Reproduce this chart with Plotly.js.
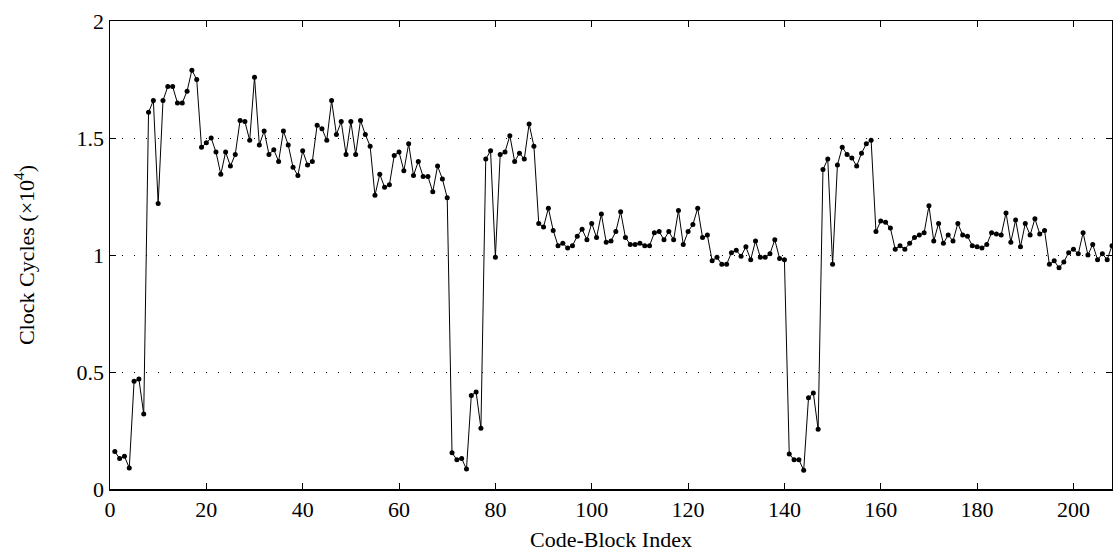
<!DOCTYPE html>
<html><head><meta charset="utf-8">
<script src="https://cdn.plot.ly/plotly-3.0.1.min.js"></script>
<style>html,body{margin:0;padding:0;background:#fff}#chart{width:1113px;height:556px}</style>
</head><body><div id="chart"></div>
<script>
const blockIndex = Array.from({length: 208}, (_, i) => i + 1);
const clockCycles = [
  0.16, 0.13, 0.14, 0.09, 0.46, 0.47, 0.32, 1.61, 1.66, 1.22,
  1.66, 1.72, 1.72, 1.65, 1.65, 1.70, 1.79, 1.75, 1.46, 1.48,
  1.50, 1.44, 1.345, 1.44, 1.38, 1.43, 1.575, 1.57, 1.49, 1.76,
  1.47, 1.53, 1.43, 1.45, 1.40, 1.53, 1.47, 1.375, 1.34, 1.445,
  1.385, 1.40, 1.555, 1.54, 1.49, 1.66, 1.515, 1.57, 1.43, 1.57,
  1.43, 1.575, 1.515, 1.465, 1.255, 1.345, 1.29, 1.30, 1.425, 1.44,
  1.36, 1.475, 1.34, 1.40, 1.335, 1.335, 1.27, 1.38, 1.325, 1.245,
  0.155, 0.125, 0.13, 0.085, 0.40, 0.415, 0.26, 1.41, 1.445, 0.99,
  1.43, 1.44, 1.51, 1.40, 1.435, 1.41, 1.56, 1.465, 1.135, 1.12,
  1.20, 1.105, 1.04, 1.05, 1.03, 1.04, 1.08, 1.11, 1.065, 1.135,
  1.075, 1.175, 1.055, 1.06, 1.10, 1.185, 1.075, 1.045, 1.045, 1.05,
  1.04, 1.04, 1.095, 1.10, 1.065, 1.10, 1.065, 1.19, 1.045, 1.10,
  1.13, 1.20, 1.075, 1.085, 0.975, 0.99, 0.96, 0.96, 1.01, 1.02,
  0.995, 1.035, 0.98, 1.06, 0.99, 0.99, 1.005, 1.065, 0.985, 0.98,
  0.15, 0.125, 0.125, 0.08, 0.39, 0.41, 0.255, 1.365, 1.41, 0.96,
  1.385, 1.46, 1.43, 1.415, 1.38, 1.435, 1.475, 1.49, 1.10, 1.145,
  1.14, 1.115, 1.025, 1.04, 1.025, 1.05, 1.075, 1.085, 1.095, 1.21,
  1.06, 1.135, 1.05, 1.085, 1.06, 1.135, 1.085, 1.08, 1.04, 1.035,
  1.03, 1.045, 1.095, 1.09, 1.085, 1.18, 1.055, 1.15, 1.035, 1.135,
  1.085, 1.155, 1.09, 1.105, 0.96, 0.975, 0.945, 0.97, 1.01, 1.025,
  1.005, 1.095, 1.0, 1.045, 0.98, 1.005, 0.98, 1.04
];
const xTickVals = [0, 20, 40, 60, 80, 100, 120, 140, 160, 180, 200];
const yTickVals = [0, 0.5, 1, 1.5, 2];
const xTitle = 'Code-Block Index';
const yTitle = 'Clock Cycles (×10<sup>4</sup>)';

const font = {family: '"Liberation Serif", "DejaVu Serif", serif', size: 22, color: '#000'};

Plotly.newPlot('chart', [{
  x: blockIndex, y: clockCycles, type: 'scatter', mode: 'lines+markers',
  line: {color: '#000', width: 1},
  marker: {color: '#000', size: 5},
  hoverinfo: 'skip'
}], {
  width: 1113, height: 556,
  margin: {l: 110, r: 1, t: 21, b: 67},
  paper_bgcolor: '#fff', plot_bgcolor: '#fff',
  font: font,
  showlegend: false,
  xaxis: {
    range: [0, 208], tickvals: xTickVals, ticks: 'inside', ticklen: 6, tickwidth: 1, tickcolor: '#000',
    showline: true, linecolor: '#000', linewidth: 1.5, mirror: 'ticks',
    showgrid: false, zeroline: false,
    title: {text: xTitle, font: font, standoff: 10}
  },
  yaxis: {
    range: [0, 2], tickvals: yTickVals, ticks: 'inside', ticklen: 6, tickwidth: 1, tickcolor: '#000',
    showline: true, linecolor: '#000', linewidth: 1.5, mirror: 'ticks',
    showgrid: true, gridcolor: '#000', gridwidth: 1, griddash: '1.2px,10.8px', zeroline: false,
    title: {text: yTitle, font: font, standoff: 36}
  }
}, {displayModeBar: false, staticPlot: true});
</script></body></html>
